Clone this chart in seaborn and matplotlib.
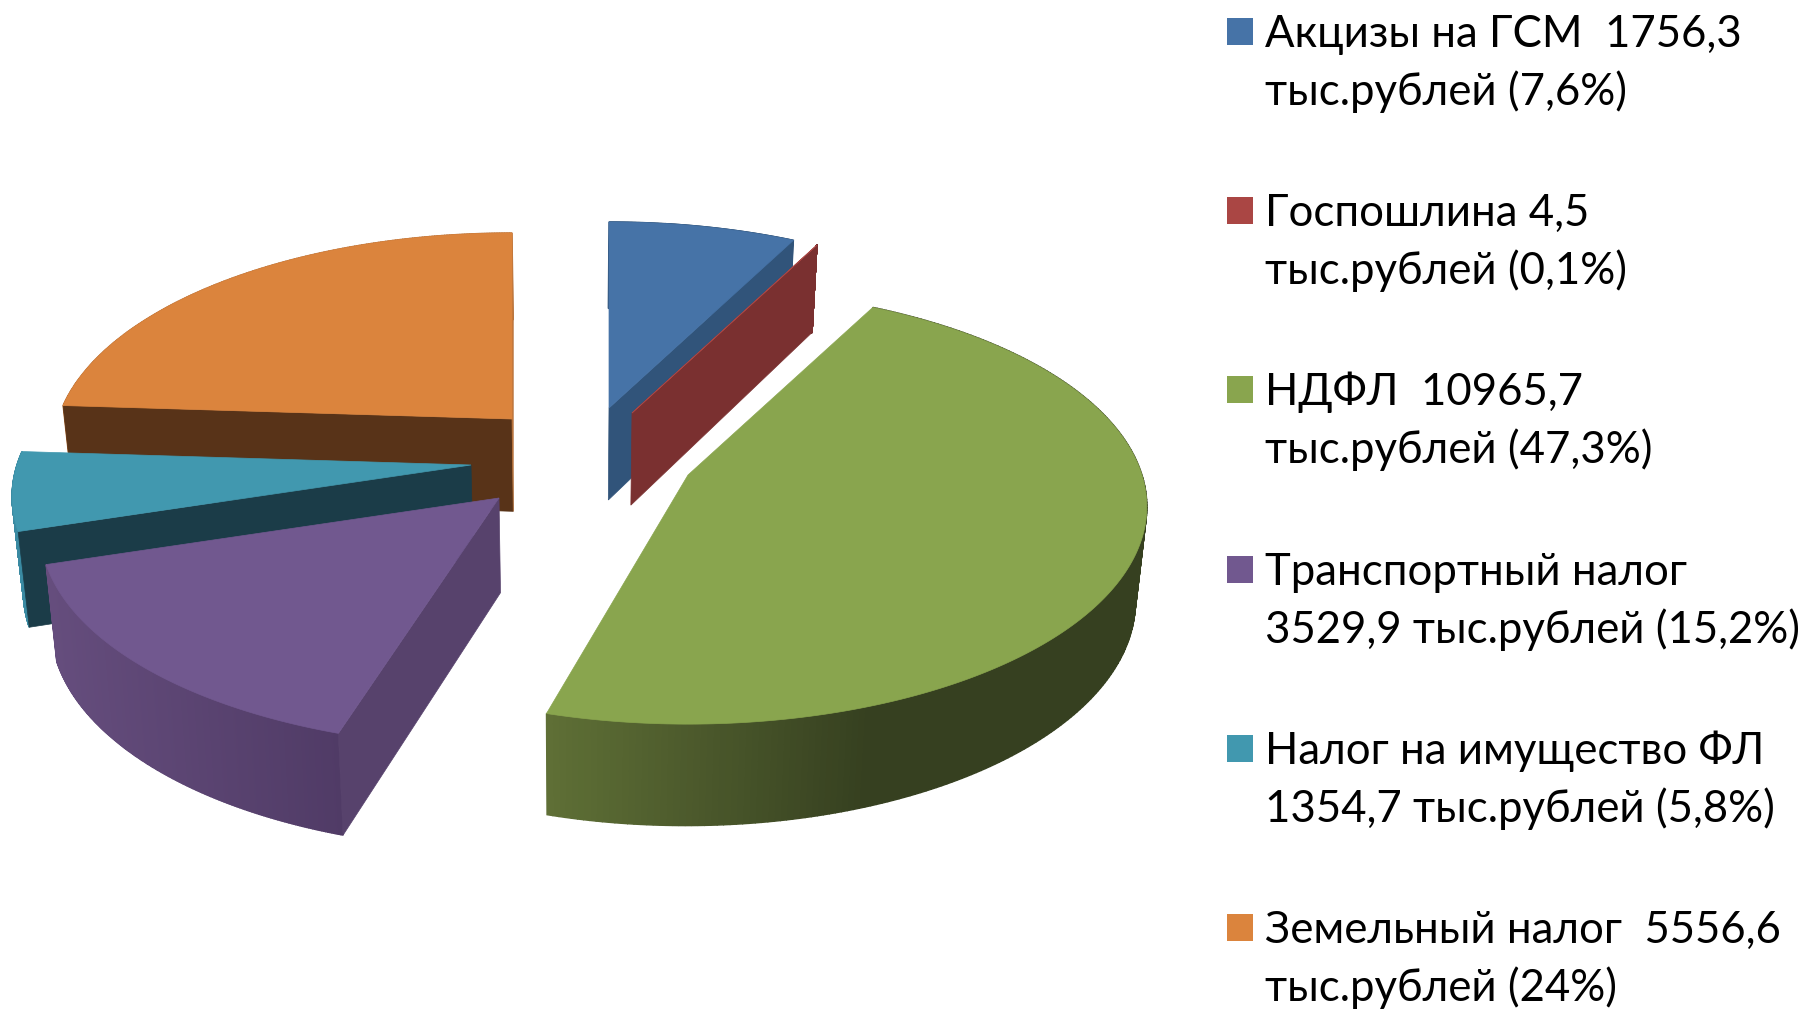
#!/usr/bin/env python
# coding: utf-8
import numpy as np
import seaborn as sns
import matplotlib.pyplot as plt

# data
categories = ['Акцизы на ГСМ  1756,3\nтыс.рублей (7,6%)',
              'Госпошлина 4,5\nтыс.рублей (0,1%)',
              'НДФЛ  10965,7\nтыс.рублей (47,3%)',
              'Транспортный налог\n3529,9 тыс.рублей (15,2%)',
              'Налог на имущество ФЛ\n1354,7 тыс.рублей (5,8%)',
              'Земельный налог  5556,6\nтыс.рублей (24%)']
values = [1756.3, 4.5, 10965.7, 3529.9, 1354.7, 5556.6]

# colours of the slices: top, radial face, wall at the left, wall at the right
top_colors = ['#4673a7', '#aa4644', '#89a54e', '#71588f', '#4198af', '#db843d']
face_colors = ['#31547a', '#7a3030', '#364020', '#57426c', '#1b3c48', '#583318']
wall_left = ['#31547a', '#7a3030', '#5f7036', '#654d7d', '#3a8aa2', '#b8723a']
wall_right = ['#31547a', '#7a3030', '#364020', '#503b66', '#3a8aa2', '#b8723a']

# pie look, all in pixels
center = (555, 450)
explode_x = [54, 77, 133, -56, -84, -43]
explode_y = [-42, -37, 25, 48, 15, -31]
radius_x, radius_y = 454, 213
persp = 0.145
depth = 92
draw_order = [5, 4, 3, 0, 1, 2]
# the original's green slice closes a little early
end_trim = [0, 0, np.radians(2.2), 0, 0, 0]


def rim(theta, ax0, ay0):
    # top of the pie, theta clockwise from 12 o'clock
    xw, yw = np.sin(theta), np.cos(theta)
    s = 1 / (1 + persp * yw)
    return ax0 + radius_x * xw * s, ay0 - radius_y * yw * s


def drop(x, y):
    # same points on the bottom of the pie
    x = np.asarray(x, dtype=float)
    y = np.asarray(y, dtype=float)
    return 575 + (x - 575) * 0.98, y + depth + 0.03 * (y - 408)


sns.set_style('white')
plt.rcParams['font.family'] = ['Lato', 'Open Sans', 'DejaVu Sans']

fig = plt.figure(figsize=(18.01, 10.09), dpi=100)
ax = fig.add_axes([0, 0, 1, 1])
ax.set_xlim(0, 1801)
ax.set_ylim(1009, 0)
sns.despine(ax=ax, left=True, bottom=True)
ax.axis('off')

edges = np.concatenate([[0], np.cumsum(values)]) / np.sum(values) * 2 * np.pi

for z, i in enumerate(draw_order):
    ax0, ay0 = center[0] + explode_x[i], center[1] + explode_y[i]
    t = np.linspace(edges[i], edges[i + 1] - end_trim[i], 240)
    x, y = rim(t, ax0, ay0)
    bx, by = drop(x, y)
    abx, aby = drop(ax0, ay0)

    # outer wall, shaded along x
    shades = sns.blend_palette([wall_left[i], wall_right[i]], 200)
    lo, hi = x.min(), {2: 870, 3: 340}.get(i, x.max() + 1)
    for j in range(len(t) - 1):
        frac = np.clip((x[j] - lo) / (hi - lo), 0, 1)
        ax.fill([x[j], x[j + 1], bx[j + 1], bx[j]], [y[j], y[j + 1], by[j + 1], by[j]],
                color=shades[int(frac * 199)], lw=1.0, zorder=z)

    # radial faces, only the ones turned to the viewer
    if np.sin(t[0]) < 0:
        ax.fill([ax0, x[0], bx[0], abx], [ay0, y[0], by[0], aby],
                color=face_colors[i], lw=0.5, zorder=z)
    if np.sin(t[-1]) > 0:
        ax.fill([ax0, x[-1], bx[-1], abx], [ay0, y[-1], by[-1], aby],
                color=face_colors[i], lw=0.5, zorder=z)
    if i == 5:
        # the thin sliver at the 12 o'clock side is lit
        ax.fill([ax0, x[-1], bx[-1], abx], [ay0, y[-1], by[-1], aby],
                color=wall_left[i], lw=0.5, zorder=z)

    # top
    ax.fill(np.r_[ax0, x], np.r_[ay0, y], color=top_colors[i], lw=0.5, zorder=z)

# legend
for i, label in enumerate(categories):
    yc = 31 + i * 179.2
    ax.fill([1227, 1253, 1253, 1227], [yc - 13, yc - 13, yc + 14, yc + 14],
            color=top_colors[i], lw=0)
    for n, line in enumerate(label.split('\n')):
        ax.text(1265, yc + 16 + n * 58, line, fontsize=31.5, color='black',
                va='baseline', ha='left')

plt.savefig('out.png', dpi=100)
plt.close()
